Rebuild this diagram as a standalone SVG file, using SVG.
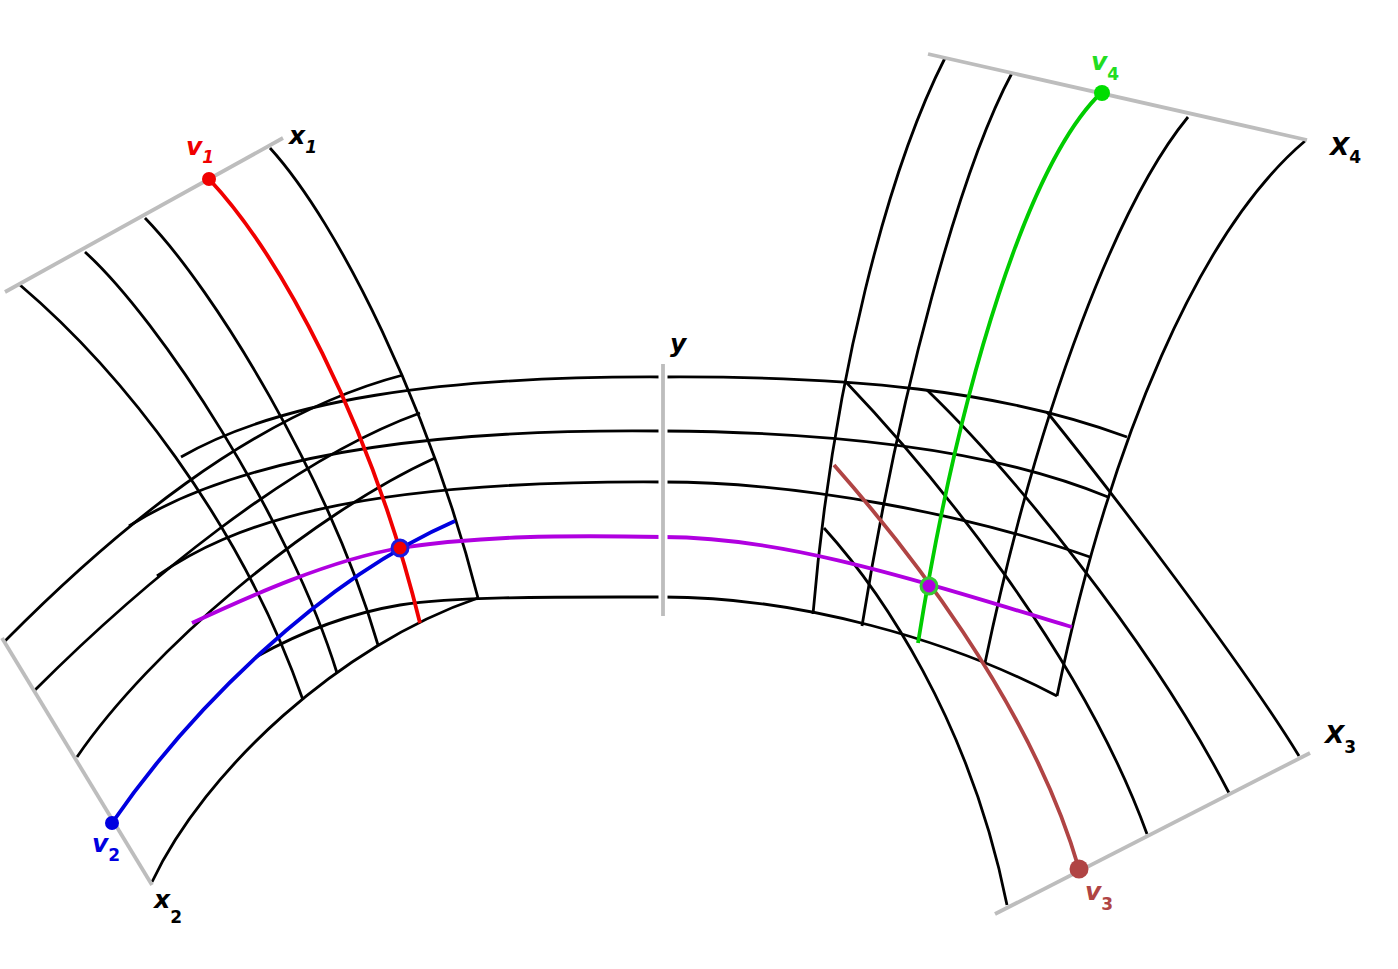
<svg xmlns="http://www.w3.org/2000/svg" width="1398" height="969" viewBox="0 0 1398 969">
<style>
.k{fill:none;stroke:#000;stroke-width:2.8}
.ax{fill:none;stroke:#bdbdbd;stroke-width:3.8}
.c{fill:none;stroke-width:3.8}
.t{font-family:"DejaVu Sans","Liberation Sans",sans-serif;font-weight:bold;font-style:italic;font-size:25px}
.s{font-size:17px}
.u{font-style:normal}
</style>
<rect width="1398" height="969" fill="#fff"/>
<g id="left-chart">
<path class="k" d="M20,285 C120,370 240,520 303,700"/>
<path class="k" d="M85,252 C160,320 290,520 337,673"/>
<path class="k" d="M145,218 C215,290 330,480 378,645"/>
<path class="k" d="M270,148 C340,225 430,410 478,598"/>
<path class="k" d="M5,641 C110,535 250,415 403,375"/>
<path class="k" d="M35,690 C140,585 290,460 420,413"/>
<path class="k" d="M77,757 C150,650 310,515 435,458"/>
<path class="k" d="M152,882 C205,770 340,645 478,598"/>
</g>
<g id="band">
<path class="k" d="M181,457 C280,400 440,376 663,377 C850,376 1000,390 1127,437"/>
<path class="k" d="M129,526 C230,462 400,428 663,431 C830,432 990,448 1108,497"/>
<path class="k" d="M157,576 C230,525 350,480 663,482 C800,482 970,515 1090,557"/>
<path class="k" d="M256,657 C290,638 340,615 400,605 C460,596 560,597 663,597 C800,597 950,640 1057,696"/>
</g>
<g id="right-chart">
<path class="k" d="M945,58 C888,170 833,380 813,614"/>
<path class="k" d="M1012,73 C960,170 900,390 862,626"/>
<path class="k" d="M1188,117 C1120,200 1040,400 985,663"/>
<path class="k" d="M1305,141 C1200,230 1110,440 1057,696"/>
<path class="k" d="M824,528 C880,590 970,720 1007,905"/>
<path class="k" d="M845,381 C930,470 1080,650 1147,834"/>
<path class="k" d="M927,390 C1010,470 1150,640 1229,793"/>
<path class="k" d="M1047,412 C1110,490 1240,660 1299,756"/>
</g>
<g id="connectors">
<path id="purple" class="c" stroke="#b000e0" d="M192,623 C250,596 330,560 400,548 C480,536 560,535 663,537 C780,537 900,575 1072,627"/>
<path id="red" class="c" stroke="#f00000" d="M209,179 C280,255 370,420 420,623"/>
<path id="blue" class="c" stroke="#0000e0" d="M112,823 C190,710 320,580 455,521"/>
<path id="green" class="c" stroke="#00cc00" d="M1102,92 C1030,160 960,380 918,643"/>
<path id="brown" class="c" stroke="#b04444" d="M834,465 C900,540 1030,700 1079,869"/>
</g>
<g id="axes">
<line class="ax" x1="5" y1="292" x2="283" y2="138"/>
<line class="ax" x1="2" y1="638" x2="152" y2="885"/>
<line x1="663" y1="364" x2="663" y2="616" stroke="#fff" stroke-width="9"/>
<line class="ax" x1="663" y1="364" x2="663" y2="616"/>
<line class="ax" x1="928" y1="54" x2="1307" y2="140"/>
<line class="ax" x1="995" y1="914" x2="1310" y2="753"/>
</g>
<g id="points">
<circle id="v1" cx="209" cy="179" r="7" fill="#f00000"/>
<circle id="v2" cx="112" cy="823" r="7" fill="#0000e0"/>
<circle id="v3" cx="1079" cy="869" r="9.5" fill="#b04444"/>
<circle id="v4" cx="1102" cy="93" r="8" fill="#00dd00"/>
<circle id="p12" cx="400" cy="548" r="8" fill="#f00000" stroke="#1a1ae0" stroke-width="3"/>
<circle id="p34" cx="929" cy="586" r="8" fill="#b000e0" stroke="#33cc33" stroke-width="3"/>
</g>
<g id="labels">
<text class="t" x="186" y="155" fill="#f00000">v<tspan class="s" dy="8">1</tspan></text>
<text class="t" x="289" y="144">x<tspan class="s" dy="9">1</tspan></text>
<text class="t" x="92" y="852" fill="#0000e0">v<tspan class="s u" dy="9">2</tspan></text>
<text class="t" x="154" y="908">x<tspan class="s u" dy="15">2</tspan></text>
<text class="t" x="670" y="352">y</text>
<text class="t" x="1091" y="70" fill="#22dd22">v<tspan class="s u" dy="10">4</tspan></text>
<text class="t" x="1330" y="155">X<tspan class="s u" dy="8">4</tspan></text>
<text class="t" x="1325" y="743">X<tspan class="s u" dy="10">3</tspan></text>
<text class="t" x="1085" y="900" fill="#b04444">v<tspan class="s u" dy="10">3</tspan></text>
</g>
</svg>
